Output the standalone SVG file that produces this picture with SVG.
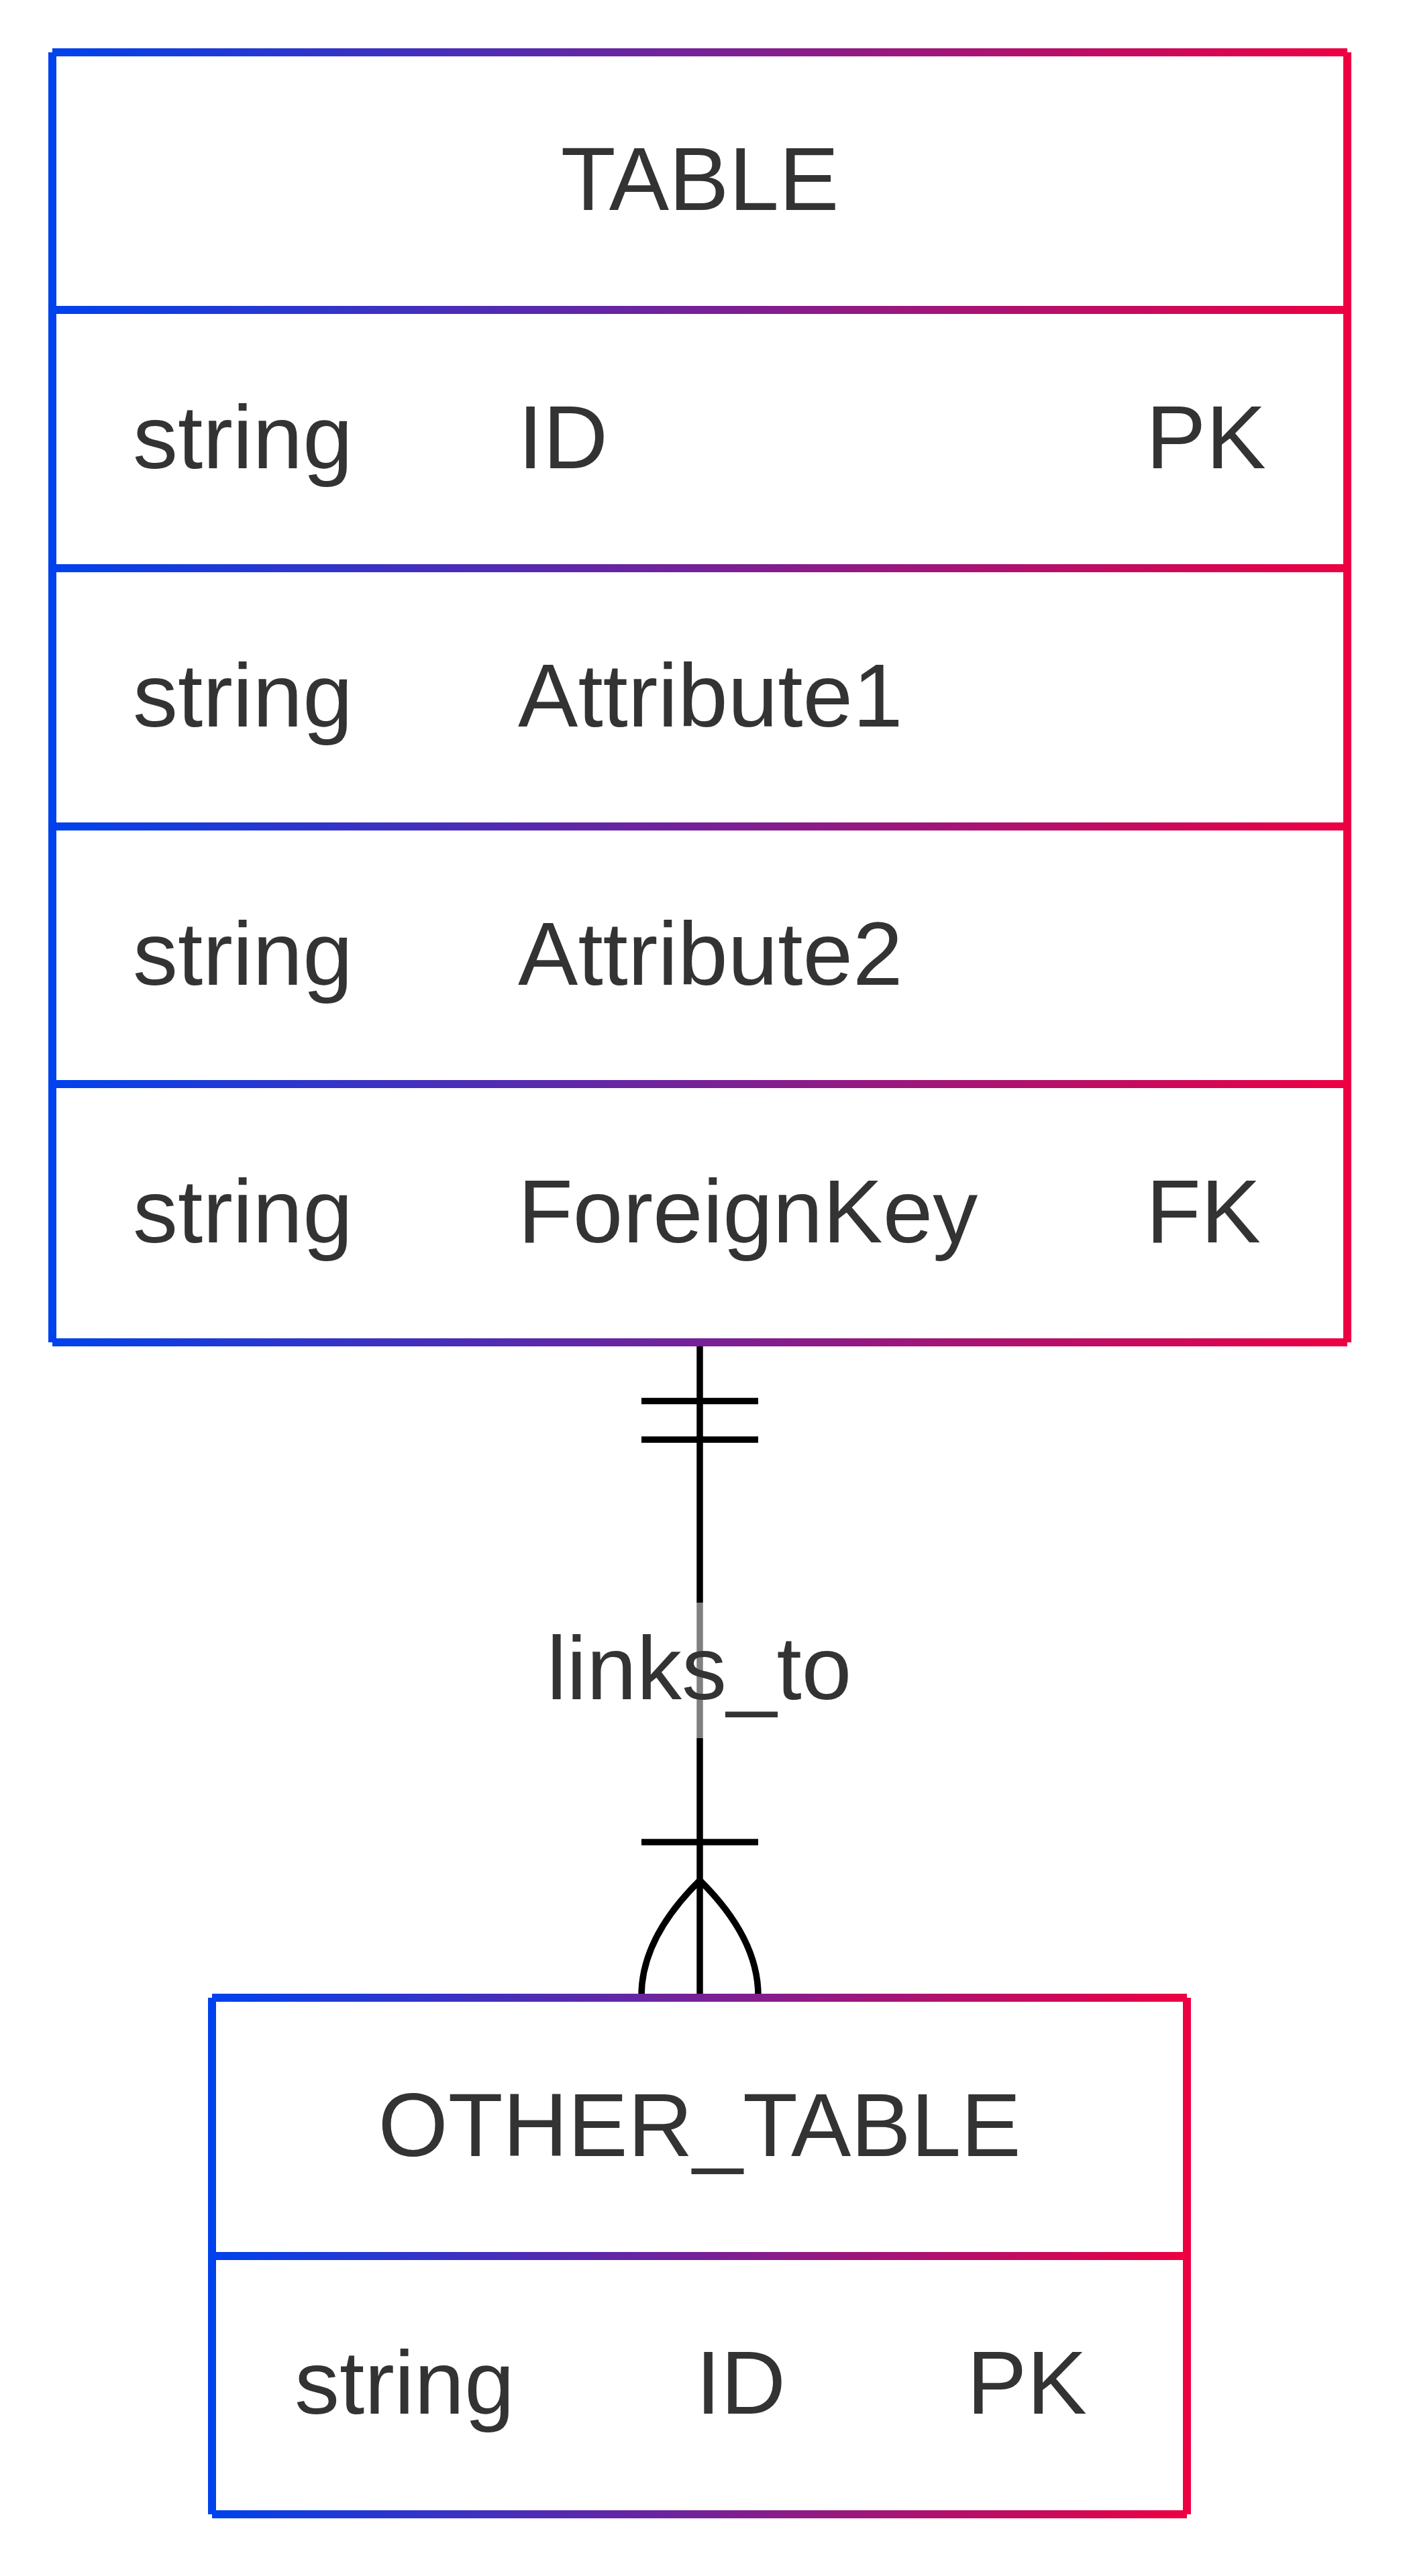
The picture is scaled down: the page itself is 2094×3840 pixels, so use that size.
<svg xmlns="http://www.w3.org/2000/svg" width="2094" height="3840" viewBox="0 0 2094 3840">
<defs>
  <linearGradient id="gradTable" gradientUnits="userSpaceOnUse" x1="78" y1="0" x2="2008" y2="0">
    <stop offset="0" stop-color="#0042ED"/>
    <stop offset="1" stop-color="#ED0042"/>
  </linearGradient>
  <linearGradient id="gradOther" gradientUnits="userSpaceOnUse" x1="316" y1="0" x2="1769" y2="0">
    <stop offset="0" stop-color="#0042ED"/>
    <stop offset="1" stop-color="#ED0042"/>
  </linearGradient>
</defs>
<style>
  .t { font-family: "Liberation Sans", Arial, sans-serif; font-size: 134px; fill: #333333; }
  .mid { text-anchor: middle; }
  .b1 { stroke: url(#gradTable); stroke-width: 12; fill: none; stroke-linecap: butt; }
  .b2 { stroke: url(#gradOther); stroke-width: 12; fill: none; stroke-linecap: butt; }
  .edge { stroke: #000000; stroke-width: 9.5; fill: none; }
</style>
<rect x="0" y="0" width="2094" height="3840" fill="#FFFFFF"/>

<g id="connectors">
  <path class="edge" d="M1043,2001 L1043,2975"/>
  <path class="edge" d="M956,2088.5 L1130,2088.5 M956,2146 L1130,2146"/>
  <path class="edge" d="M956,2746 L1130,2746"/>
  <path class="edge" d="M1043,2803 Q956,2889 956,2975 M1043,2803 Q1130,2889 1130,2975"/>
  <g id="label-links_to">
    <rect x="814" y="2389" width="456" height="202" fill="#FFFFFF" fill-opacity="0.5"/>
    <text class="t mid" x="1042" y="2533">links_to</text>
  </g>
</g>

<g id="node-TABLE">
  <rect x="78" y="78" width="1930" height="1923" fill="#FFFFFF"/>
  <path class="b1" d="M78,78 L2008,78 M78,462 L2008,462 M78,847 L2008,847 M78,1232 L2008,1232 M78,1616 L2008,1616 M78,2001 L2008,2001"/>
  <path class="b1" d="M78,78 L78,2001 M2008,78 L2008,2001"/>
  <text class="t mid" x="1043" y="313">TABLE</text>
  <text class="t" x="198" y="698">string</text>
  <text class="t" x="772" y="698">ID</text>
  <text class="t" x="1708" y="698">PK</text>
  <text class="t" x="198" y="1083">string</text>
  <text class="t" x="772" y="1083">Attribute1</text>
  <text class="t" x="198" y="1468">string</text>
  <text class="t" x="772" y="1468">Attribute2</text>
  <text class="t" x="198" y="1852">string</text>
  <text class="t" x="772" y="1852">ForeignKey</text>
  <text class="t" x="1708" y="1852">FK</text>
</g>

<g id="node-OTHER_TABLE">
  <rect x="316" y="2978" width="1453" height="770" fill="#FFFFFF"/>
  <path class="b2" d="M316,2978 L1769,2978 M316,3363 L1769,3363 M316,3748 L1769,3748"/>
  <path class="b2" d="M316,2978 L316,3748 M1769,2978 L1769,3748"/>
  <text class="t mid" x="1042.5" y="3214">OTHER_TABLE</text>
  <text class="t" x="439" y="3598">string</text>
  <text class="t" x="1037" y="3598">ID</text>
  <text class="t" x="1441" y="3598">PK</text>
</g>
</svg>
